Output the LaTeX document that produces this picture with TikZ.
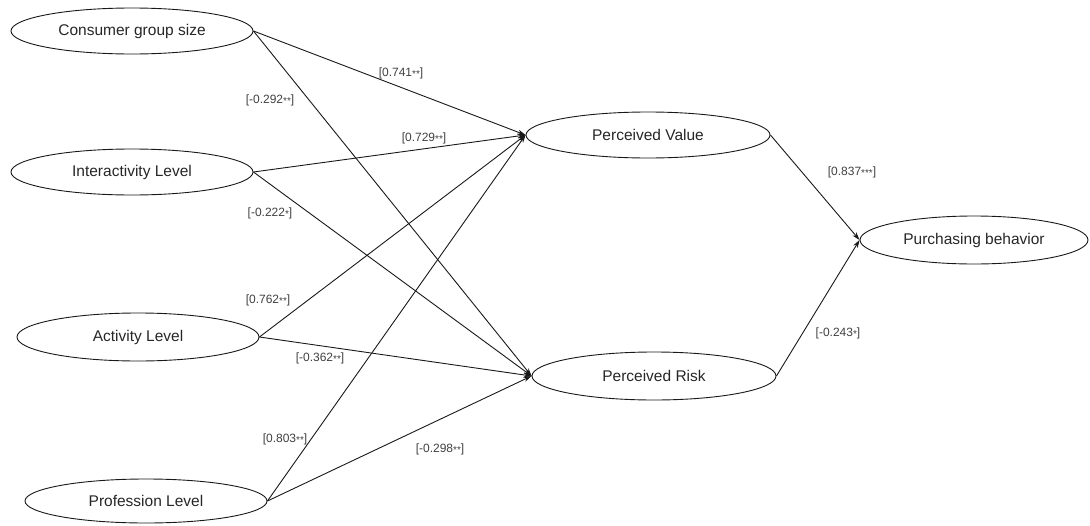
\documentclass[tikz,border=0pt]{standalone}
\usepackage{fontspec}
\setmainfont{Liberation Sans}
\usetikzlibrary{shapes.geometric,arrows.meta}
\newcommand{\st}{\raisebox{-1.6pt}{\fontsize{10}{10}\selectfont *}}
\tikzset{
  var/.style={draw=black!90, line width=0.9pt, ellipse, inner sep=0pt,
    font=\fontsize{15.5}{18}\selectfont, text=black!85},
  path/.style={draw=black!90, line width=0.9pt, -{Stealth[length=8pt,width=5pt]}},
  coef/.style={font=\fontsize{12}{14}\selectfont, text=black!75, inner sep=1pt}
}
\begin{document}
\begin{tikzpicture}[x=1pt,y=-1pt]
\useasboundingbox (0,0) rectangle (1090,525);
\node[var, minimum width=242pt, minimum height=46pt] (cg) at (132,31) {Consumer group size};
\node[var, minimum width=242pt, minimum height=46pt] (il) at (132,172) {Interactivity Level};
\node[var, minimum width=242pt, minimum height=48pt] (al) at (138,337) {Activity Level};
\node[var, minimum width=242pt, minimum height=44pt] (pl) at (146,501) {Profession Level};
\node[var, minimum width=244pt, minimum height=46pt] (pv) at (648,135) {Perceived Value};
\node[var, minimum width=244pt, minimum height=48pt] (pr) at (654,376) {Perceived Risk};
\node[var, minimum width=228pt, minimum height=48pt] (pb) at (974,240) {Purchasing behavior};

\draw[path] (cg.east) -- (pv.west);
\draw[path] (cg.east) -- (pr.west);
\draw[path] (il.east) -- (pv.west);
\draw[path] (il.east) -- (pr.west);
\draw[path] (al.east) -- (pv.west);
\draw[path] (al.east) -- (pr.west);
\draw[path] (pl.east) -- (pv.west);
\draw[path] (pl.east) -- (pr.west);
\draw[path] (pv.east) -- (pb.west);
\draw[path] (pr.east) -- (pb.west);

\node[coef] (l1) at (401,73) {[0.741\st\st]};
\node[coef] (l2) at (270,100) {[-0.292\st\st]};
\node[coef] (l3) at (424,138) {[0.729\st\st]};
\node[coef] (l4) at (270,213) {[-0.222\st]};
\node[coef] (l5) at (268,300) {[0.762\st\st]};
\node[coef] (l6) at (320,358) {[-0.362\st\st]};
\node[coef] (l7) at (285,439) {[0.803\st\st]};
\node[coef] (l8) at (440,449) {[-0.298\st\st]};
\node[coef] (l9) at (852,172) {[0.837\st\st\st]};
\node[coef] (l10) at (838,333) {[-0.243\st]};
\end{tikzpicture}
\end{document}
